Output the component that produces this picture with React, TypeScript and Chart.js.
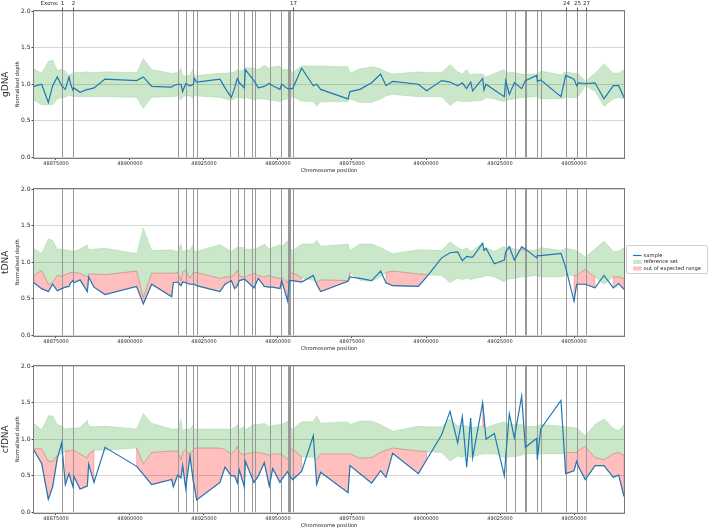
import React, { useEffect, useRef } from 'react';
import { Chart, registerables } from 'chart.js';

Chart.register(...registerables);

// ---------- data ----------
const POSITIONS = [
  48867570, 48870160, 48872410, 48873870, 48875450, 48876910, 48878150, 48879390, 48879960, 48880740,
  48881080, 48883110, 48885590, 48886040, 48887840, 48891550, 48902250, 48904500, 48907320, 48914080,
  48914640, 48916100, 48917230, 48917790, 48918810, 48920270, 48921400, 48921730, 48922520, 48930400,
  48932090, 48934230, 48935360, 48936260, 48936940, 48938630, 48938960, 48941890, 48943350, 48945380,
  48947070, 48948200, 48950670, 48951240, 48953260, 48953830, 48954950, 48957990, 48961940, 48963060,
  48964410, 48973650, 48974320, 48977700, 48981640, 48984680, 48986480, 48988740, 48997410, 49000220,
  49005290, 49008110, 49010700, 49012270, 49013740, 49015090, 49015760, 49019140, 49019590, 49020270,
  49023080, 49026460, 49026910, 49028150, 49029840, 49032320, 49033560, 49037380, 49037610, 49038740,
  49045600, 49047180, 49050000, 49050900, 49051570, 49053830, 49057090, 49060130, 49063280, 49065090,
  49066890,
];

const GDNA_SAMPLE = [
  0.97, 1.0, 0.75, 0.98, 1.1, 0.98, 0.93, 1.1, 1.0, 0.92,
  0.95, 0.89, 0.93, 0.93, 0.95, 1.07, 1.05, 1.1, 0.97, 0.96,
  0.98, 1.0, 1.0, 0.9, 1.01, 0.98, 1.0, 1.08, 1.03, 1.07,
  0.95, 0.82, 0.95, 1.08, 1.02, 0.95, 1.2, 1.05, 0.95, 0.97,
  1.01, 0.98, 0.93, 1.0, 0.94, 0.94, 0.94, 1.22, 0.98, 1.0,
  0.93, 0.8, 0.9, 0.93, 1.02, 1.14, 0.98, 1.04, 1.0, 0.91,
  1.05, 1.03, 0.98, 1.02, 0.94, 1.03, 0.91, 1.08, 0.92, 1.0,
  0.92, 0.83, 1.05, 0.86, 1.02, 0.94, 1.05, 1.12, 1.04, 1.06,
  0.83, 1.12, 1.07, 0.98, 1.02, 1.01, 1.02, 0.8, 0.98, 0.98,
  0.82,
];
const GDNA_UPPER = [
  1.21, 1.15, 1.31, 1.33, 1.19, 1.2, 1.18, 1.11, 1.14, 1.15,
  1.16, 1.16, 1.17, 1.16, 1.16, 1.17, 1.16, 1.35, 1.2, 1.15,
  1.15, 1.16, 1.22, 1.12, 1.11, 1.13, 1.22, 1.12, 1.12, 1.15,
  1.15, 1.16, 1.17, 1.2, 1.18, 1.2, 1.23, 1.22, 1.2, 1.26,
  1.22, 1.24, 1.25, 1.2, 1.2, 1.2, 1.16, 1.25, 1.25, 1.25,
  1.25, 1.24, 1.15, 1.21, 1.24, 1.21, 1.17, 1.14, 1.17, 1.16,
  1.16, 1.27, 1.17, 1.14, 1.2, 1.12, 1.14, 1.14, 1.12, 1.1,
  1.15, 1.2, 1.17, 1.16, 1.16, 1.14, 1.14, 1.14, 1.14, 1.18,
  1.13, 1.17, 1.15, 1.15, 1.14, 1.04, 1.15, 1.28, 1.15, 1.15,
  1.2,
];
const GDNA_LOWER = [
  0.78, 0.72, 0.72, 0.72, 0.8, 0.82, 0.82, 0.85, 0.84, 0.83,
  0.83, 0.83, 0.83, 0.83, 0.83, 0.83, 0.82, 0.67, 0.82, 0.83,
  0.83, 0.84, 0.78, 0.83, 0.84, 0.84, 0.8, 0.84, 0.84, 0.82,
  0.8, 0.78, 0.8, 0.82, 0.82, 0.8, 0.82, 0.79, 0.8, 0.8,
  0.78, 0.78, 0.76, 0.78, 0.8, 0.8, 0.83, 0.77, 0.76, 0.7,
  0.76, 0.76, 0.8, 0.75, 0.75, 0.8, 0.84, 0.86, 0.83, 0.83,
  0.83, 0.71, 0.78, 0.76, 0.77, 0.76, 0.77, 0.78, 0.8, 0.82,
  0.8, 0.76, 0.78, 0.79, 0.8, 0.82, 0.82, 0.83, 0.82, 0.8,
  0.8, 0.82, 0.82, 0.82, 0.84, 0.98, 0.9, 0.7, 0.8, 0.82,
  0.8,
];

const TDNA_SAMPLE = [
  0.72, 0.64, 0.6, 0.7, 0.61, 0.64, 0.66, 0.67, 0.72, 0.75,
  0.72, 0.76, 0.6, 0.8, 0.66, 0.56, 0.67, 0.43, 0.7, 0.53,
  0.72, 0.73, 0.68, 0.73, 0.72, 0.7, 0.7, 0.7, 0.68, 0.6,
  0.7, 0.75, 0.64, 0.68, 0.75, 0.77, 0.76, 0.65, 0.78, 0.67,
  0.66, 0.66, 0.64, 0.75, 0.47, 0.75, 0.75, 0.73, 0.82, 0.7,
  0.6, 0.74, 0.8, 0.78, 0.75, 0.88, 0.72, 0.68, 0.67, 0.8,
  1.06, 1.13, 1.14, 1.02, 1.08, 1.07, 1.07, 1.26, 1.16, 1.19,
  0.98, 1.03, 1.14, 1.21, 1.03, 1.21, 1.18, 1.06, 1.09, 1.09,
  1.12, 0.93, 0.47, 0.7, 0.7, 0.7, 0.65, 0.82, 0.65, 0.71,
  0.63,
];
const TDNA_UPPER = [
  1.19, 1.12, 1.32, 1.3, 1.18, 1.18, 1.17, 1.16, 1.16, 1.15,
  1.15, 1.18, 1.24, 1.17, 1.18, 1.19, 1.12, 1.47, 1.16, 1.17,
  1.16, 1.15, 1.25, 1.15, 1.16, 1.17, 1.25, 1.15, 1.15, 1.24,
  1.2, 1.15, 1.18, 1.21, 1.2, 1.2, 1.18, 1.18, 1.2, 1.25,
  1.18, 1.2, 1.24, 1.22, 1.29, 1.2, 1.16, 1.25, 1.25, 1.3,
  1.22, 1.25, 1.16, 1.25, 1.25, 1.2, 1.16, 1.12, 1.17, 1.17,
  1.16, 1.28, 1.2, 1.17, 1.2, 1.15, 1.16, 1.27, 1.18, 1.2,
  1.15, 1.22, 1.2, 1.22, 1.18, 1.17, 1.16, 1.17, 1.17, 1.2,
  1.16, 1.19, 1.17, 1.15, 1.14, 1.07, 1.18, 1.29, 1.15, 1.15,
  1.2,
];
const TDNA_LOWER = [
  0.82, 0.89, 0.7, 0.72, 0.82, 0.81, 0.83, 0.85, 0.86, 0.86,
  0.86, 0.85, 0.8, 0.84, 0.84, 0.83, 0.88, 0.52, 0.85, 0.85,
  0.85, 0.86, 0.75, 0.87, 0.89, 0.78, 0.86, 0.86, 0.86, 0.78,
  0.8, 0.8, 0.84, 0.89, 0.82, 0.79, 0.8, 0.85, 0.82, 0.8,
  0.82, 0.8, 0.78, 0.8, 0.72, 0.82, 0.86, 0.79, 0.75, 0.72,
  0.76, 0.75, 0.86, 0.75, 0.74, 0.8, 0.86, 0.88, 0.84, 0.83,
  0.82, 0.72, 0.78, 0.76, 0.78, 0.76, 0.77, 0.8, 0.81, 0.82,
  0.8, 0.73, 0.76, 0.77, 0.78, 0.8, 0.8, 0.82, 0.81, 0.8,
  0.8, 0.82, 0.82, 0.82, 0.84, 0.9, 0.8, 0.7, 0.8, 0.8,
  0.78,
];

const CFDNA_SAMPLE = [
  0.85, 0.67, 0.18, 0.35, 0.74, 0.95, 0.38, 0.53, 0.45, 0.35,
  0.49, 0.32, 0.36, 0.66, 0.41, 0.89, 0.63, 0.52, 0.38, 0.45,
  0.35, 0.51, 0.47, 0.64, 0.33, 0.77, 0.42, 0.36, 0.17, 0.41,
  0.62, 0.5, 0.5, 0.4, 0.58, 0.35, 0.7, 0.41, 0.5, 0.68,
  0.36, 0.6, 0.41, 0.45, 0.56, 0.5, 0.45, 0.56, 1.05, 0.38,
  0.55, 0.27, 0.64, 0.53, 0.4, 0.57, 0.48, 0.81, 0.53, 0.72,
  1.06, 1.38, 0.95, 1.31, 0.62, 1.29, 0.75, 1.5, 1.3, 1.0,
  1.08, 0.5, 0.75, 1.35, 1.02, 1.59, 0.89, 1.01, 0.72, 1.14,
  1.53, 0.53, 0.57, 0.7, 0.62, 0.45, 0.64, 0.64, 0.48, 0.51,
  0.22,
];
const CFDNA_UPPER = [
  1.22, 1.13, 1.32, 1.32, 1.2, 1.18, 1.14, 1.15, 1.15, 1.15,
  1.15, 1.16, 1.26, 1.18, 1.17, 1.18, 1.14, 1.35, 1.22, 1.14,
  1.14, 1.14, 1.27, 1.12, 1.14, 1.14, 1.2, 1.14, 1.14, 1.14,
  1.14, 1.14, 1.16, 1.2, 1.14, 1.17, 1.13, 1.2, 1.2, 1.22,
  1.17, 1.19, 1.2, 1.2, 1.25, 1.18, 1.14, 1.24, 1.24, 1.32,
  1.22, 1.24, 1.2, 1.25, 1.25, 1.2, 1.16, 1.11, 1.18, 1.17,
  1.17, 1.28, 1.18, 1.2, 1.18, 1.16, 1.16, 1.18, 1.17, 1.16,
  1.2, 1.24, 1.22, 1.21, 1.2, 1.2, 1.17, 1.18, 1.18, 1.2,
  1.18, 1.17, 1.16, 1.15, 1.13, 1.05, 1.2, 1.28, 1.15, 1.12,
  1.2,
];
const CFDNA_LOWER = [
  0.87, 0.87, 0.7, 0.7, 0.78, 0.8, 0.84, 0.84, 0.85, 0.85,
  0.85, 0.8, 0.74, 0.8, 0.85, 0.85, 0.88, 0.66, 0.82, 0.84,
  0.84, 0.84, 0.72, 0.82, 0.86, 0.78, 0.86, 0.88, 0.88, 0.88,
  0.86, 0.8, 0.84, 0.9, 0.82, 0.78, 0.8, 0.82, 0.82, 0.8,
  0.78, 0.8, 0.8, 0.8, 0.72, 0.82, 0.87, 0.76, 0.75, 0.72,
  0.8, 0.8, 0.8, 0.74, 0.75, 0.82, 0.85, 0.88, 0.84, 0.83,
  0.82, 0.7, 0.77, 0.75, 0.78, 0.75, 0.76, 0.8, 0.8, 0.8,
  0.8, 0.75, 0.75, 0.76, 0.76, 0.78, 0.8, 0.8, 0.8, 0.8,
  0.8, 0.82, 0.82, 0.82, 0.85, 0.9, 0.75, 0.72, 0.8, 0.82,
  0.78,
];

// exon positions (exons 1..27)
const EXONS = [
  48877130, 48880850, 48916320, 48918820, 48921450, 48922740, 48933780, 48936590, 48938510, 48941320,
  48942330, 48947150, 48950910, 48953480, 48953720, 48954050, 48954970, 49027030, 49030170, 49033550,
  49033780, 49037600, 49038920, 49047400, 49050850, 49051180, 49054050,
];
const LABELLED_EXONS = [1, 2, 17, 24, 25, 27];

const X_TICKS = [48875000, 48900000, 48925000, 48950000, 48975000, 49000000, 49025000, 49050000];
const Y_TICKS = [0, 0.5, 1.0, 1.5, 2.0];

const PANEL_NAMES = ['gDNA', 'tDNA', 'cfDNA'];
const PANEL_SAMPLES = [GDNA_SAMPLE, TDNA_SAMPLE, CFDNA_SAMPLE];
const PANEL_UPPERS = [GDNA_UPPER, TDNA_UPPER, CFDNA_UPPER];
const PANEL_LOWERS = [GDNA_LOWER, TDNA_LOWER, CFDNA_LOWER];
const LEGEND_LABELS = ['sample', 'reference set', 'out of expected range'];

// ---------- style ----------
const FONT = "'DejaVu Sans', sans-serif";
const BLUE = '#1f77b4';
const GREEN = 'rgba(44,160,44,0.25)';
const GREEN_EDGE = 'rgba(44,160,44,0.18)';
const RED = 'rgba(255,0,0,0.25)';
const RED_EDGE = 'rgba(214,39,40,0.35)';
const TEXT = '#262626';
const CANVAS_W = 708;
const CANVAS_H = 177;
const CANVAS_TOPS = [0, 178, 355];

function makeDecor(panelIndex: number) {
  const s = PANEL_SAMPLES[panelIndex];
  const u = PANEL_UPPERS[panelIndex];
  const l = PANEL_LOWERS[panelIndex];
  return {
    id: 'decor' + panelIndex,
    beforeDatasetDraw(chart: any, args: any) {
      if (args.index !== 0) return;
      const { ctx, chartArea: a, scales } = chart;
      const xs = scales.x;
      const ys = scales.y;
      ctx.save();
      ctx.beginPath();
      ctx.rect(a.left, a.top, a.right - a.left, a.bottom - a.top);
      ctx.clip();
      const drawRuns = (cond: (i: number) => boolean, ref: number[]) => {
        let i = 0;
        while (i < POSITIONS.length) {
          if (!cond(i)) { i++; continue; }
          let j = i;
          while (j + 1 < POSITIONS.length && cond(j + 1)) j++;
          if (j > i) {
            ctx.beginPath();
            for (let k = i; k <= j; k++) {
              const px = xs.getPixelForValue(POSITIONS[k]);
              const py = ys.getPixelForValue(s[k]);
              if (k === i) ctx.moveTo(px, py); else ctx.lineTo(px, py);
            }
            for (let k = j; k >= i; k--) {
              ctx.lineTo(xs.getPixelForValue(POSITIONS[k]), ys.getPixelForValue(ref[k]));
            }
            ctx.closePath();
            ctx.fillStyle = RED;
            ctx.fill();
            ctx.strokeStyle = RED_EDGE;
            ctx.lineWidth = 0.7;
            ctx.stroke();
          }
          i = j + 1;
        }
      };
      drawRuns((i) => s[i] < l[i], l);
      drawRuns((i) => s[i] > u[i], u);
      // exon lines
      ctx.strokeStyle = '#999999';
      ctx.lineWidth = 1;
      for (const e of EXONS) {
        const px = Math.round(xs.getPixelForValue(e)) + 0.5;
        ctx.beginPath();
        ctx.moveTo(px, a.top);
        ctx.lineTo(px, a.bottom);
        ctx.stroke();
      }
      ctx.restore();
    },
    afterDraw(chart: any) {
      const { ctx, chartArea: a, scales } = chart;
      const xs = scales.x;
      ctx.save();
      // frame
      ctx.strokeStyle = '#7a7a7a';
      ctx.lineWidth = 1;
      const l0 = Math.round(a.left) - 0.5;
      const t0 = Math.round(a.top) - 0.5;
      const r0 = Math.round(a.right) + 0.5;
      const b0 = Math.round(a.bottom) + 0.5;
      ctx.strokeRect(l0, t0, r0 - l0, b0 - t0);
      // sample-type label
      ctx.fillStyle = TEXT;
      ctx.font = `9px ${FONT}`;
      ctx.textAlign = 'center';
      ctx.textBaseline = 'middle';
      ctx.translate(5.5, (a.top + a.bottom) / 2);
      ctx.rotate(-Math.PI / 2);
      ctx.fillText(PANEL_NAMES[panelIndex], 0, 0);
      ctx.restore();

      if (panelIndex === 0) {
        ctx.save();
        ctx.strokeStyle = '#555';
        ctx.lineWidth = 1;
        ctx.fillStyle = TEXT;
        ctx.font = `5.5px ${FONT}`;
        ctx.textAlign = 'center';
        ctx.textBaseline = 'middle';
        for (const n of LABELLED_EXONS) {
          const px = Math.round(xs.getPixelForValue(EXONS[n - 1])) + 0.5;
          ctx.beginPath();
          ctx.moveTo(px, a.top - 3.5);
          ctx.lineTo(px, a.top);
          ctx.stroke();
          ctx.fillText(String(n), px, 3.6);
        }
        ctx.textAlign = 'right';
        ctx.fillText('Exons:', xs.getPixelForValue(EXONS[0]) - 3.6, 3.6);
        ctx.restore();
      }

      if (panelIndex === 1) {
        ctx.save();
        const bx = 626.5, by = 67.5, bw = 81, bh = 28;
        ctx.fillStyle = 'rgba(255,255,255,0.85)';
        ctx.strokeStyle = '#d0d0d0';
        ctx.lineWidth = 1;
        ctx.beginPath();
        const r = 1.5;
        ctx.moveTo(bx + r, by);
        ctx.lineTo(bx + bw - r, by);
        ctx.quadraticCurveTo(bx + bw, by, bx + bw, by + r);
        ctx.lineTo(bx + bw, by + bh - r);
        ctx.quadraticCurveTo(bx + bw, by + bh, bx + bw - r, by + bh);
        ctx.lineTo(bx + r, by + bh);
        ctx.quadraticCurveTo(bx, by + bh, bx, by + bh - r);
        ctx.lineTo(bx, by + r);
        ctx.quadraticCurveTo(bx, by, bx + r, by);
        ctx.closePath();
        ctx.fill();
        ctx.stroke();
        const ys = [77.5, 84, 90.5];
        ctx.strokeStyle = BLUE;
        ctx.lineWidth = 1.2;
        ctx.beginPath();
        ctx.moveTo(633, ys[0]);
        ctx.lineTo(641.5, ys[0]);
        ctx.stroke();
        ctx.fillStyle = GREEN;
        ctx.fillRect(633, ys[1] - 2, 8.5, 4);
        ctx.fillStyle = RED;
        ctx.fillRect(633, ys[2] - 2, 8.5, 4);
        ctx.fillStyle = TEXT;
        ctx.font = `5.2px ${FONT}`;
        ctx.textAlign = 'left';
        ctx.textBaseline = 'middle';
        LEGEND_LABELS.forEach((t, i) => ctx.fillText(t, 643.5, ys[i]));
        ctx.restore();
      }
    },
  };
}

function Panel({ index }: { index: number }) {
  const ref = useRef<HTMLCanvasElement | null>(null);
  useEffect(() => {
    const canvas = ref.current;
    if (!canvas) return;
    const s = PANEL_SAMPLES[index];
    const u = PANEL_UPPERS[index];
    const l = PANEL_LOWERS[index];
    const chart = new Chart(canvas, {
      type: 'line',
      data: {
        datasets: [
          {
            label: LEGEND_LABELS[0],
            data: POSITIONS.map((x, i) => ({ x, y: s[i] })),
            borderColor: BLUE,
            borderWidth: 1.2,
            pointRadius: 0,
            fill: false,
            tension: 0,
          },
          {
            label: LEGEND_LABELS[1],
            data: POSITIONS.map((x, i) => ({ x, y: u[i] })),
            borderColor: GREEN_EDGE,
            backgroundColor: GREEN,
            borderWidth: 0.8,
            pointRadius: 0,
            fill: '+1',
            tension: 0,
          },
          {
            label: 'reference lower',
            data: POSITIONS.map((x, i) => ({ x, y: l[i] })),
            borderColor: GREEN_EDGE,
            borderWidth: 0.8,
            pointRadius: 0,
            fill: false,
            tension: 0,
          },
        ],
      } as any,
      options: {
        animation: false,
        responsive: false,
        devicePixelRatio: 1,
        events: [],
        layout: { padding: { top: 11, left: 0, right: 84, bottom: 0 } },
        plugins: { legend: { display: false }, tooltip: { enabled: false } },
        scales: {
          x: {
            type: 'linear',
            min: POSITIONS[0],
            max: POSITIONS[POSITIONS.length - 1],
            afterBuildTicks: (sc: any) => { sc.ticks = X_TICKS.map((value) => ({ value })); },
            afterFit: (sc: any) => { sc.height = 19.5; },
            ticks: {
              callback: (v: any) => String(v),
              font: { family: FONT, size: 5 },
              color: TEXT,
              padding: 0.5,
              maxRotation: 0,
              autoSkip: false,
            },
            grid: { drawOnChartArea: false, drawTicks: true, tickLength: 2.5, color: '#444' },
            border: { display: false },
            title: {
              display: true,
              text: 'Chromosome position',
              font: { family: FONT, size: 5.2 },
              color: TEXT,
              padding: { top: 0, bottom: 3.2 },
            },
          },
          y: {
            type: 'linear',
            min: 0,
            max: 2,
            afterBuildTicks: (sc: any) => { sc.ticks = Y_TICKS.map((value) => ({ value })); },
            afterFit: (sc: any) => { sc.width = 34; },
            ticks: {
              callback: (v: any) => Number(v).toFixed(1),
              font: { family: FONT, size: 6 },
              color: TEXT,
              padding: 1,
            },
            grid: { color: '#d6d6d6', tickColor: '#444', tickLength: 2.5, lineWidth: 1 },
            border: { display: false },
            title: {
              display: true,
              text: 'Normalised depth',
              font: { family: FONT, size: 5.2 },
              color: TEXT,
              padding: { top: 14.2, bottom: 0 },
            },
          },
        },
      } as any,
      plugins: [makeDecor(index)],
    });
    return () => chart.destroy();
  }, [index]);
  return (
    <canvas
      ref={ref}
      width={CANVAS_W}
      height={CANVAS_H}
      style={{ position: 'absolute', left: 0, top: CANVAS_TOPS[index], width: CANVAS_W, height: CANVAS_H }}
    />
  );
}

export default function App() {
  return (
    <div style={{ position: 'fixed', left: 0, top: 0, width: 708, height: 529, background: '#ffffff', overflow: 'hidden' }}>
      {[0, 1, 2].map((i) => (
        <Panel key={i} index={i} />
      ))}
    </div>
  );
}
